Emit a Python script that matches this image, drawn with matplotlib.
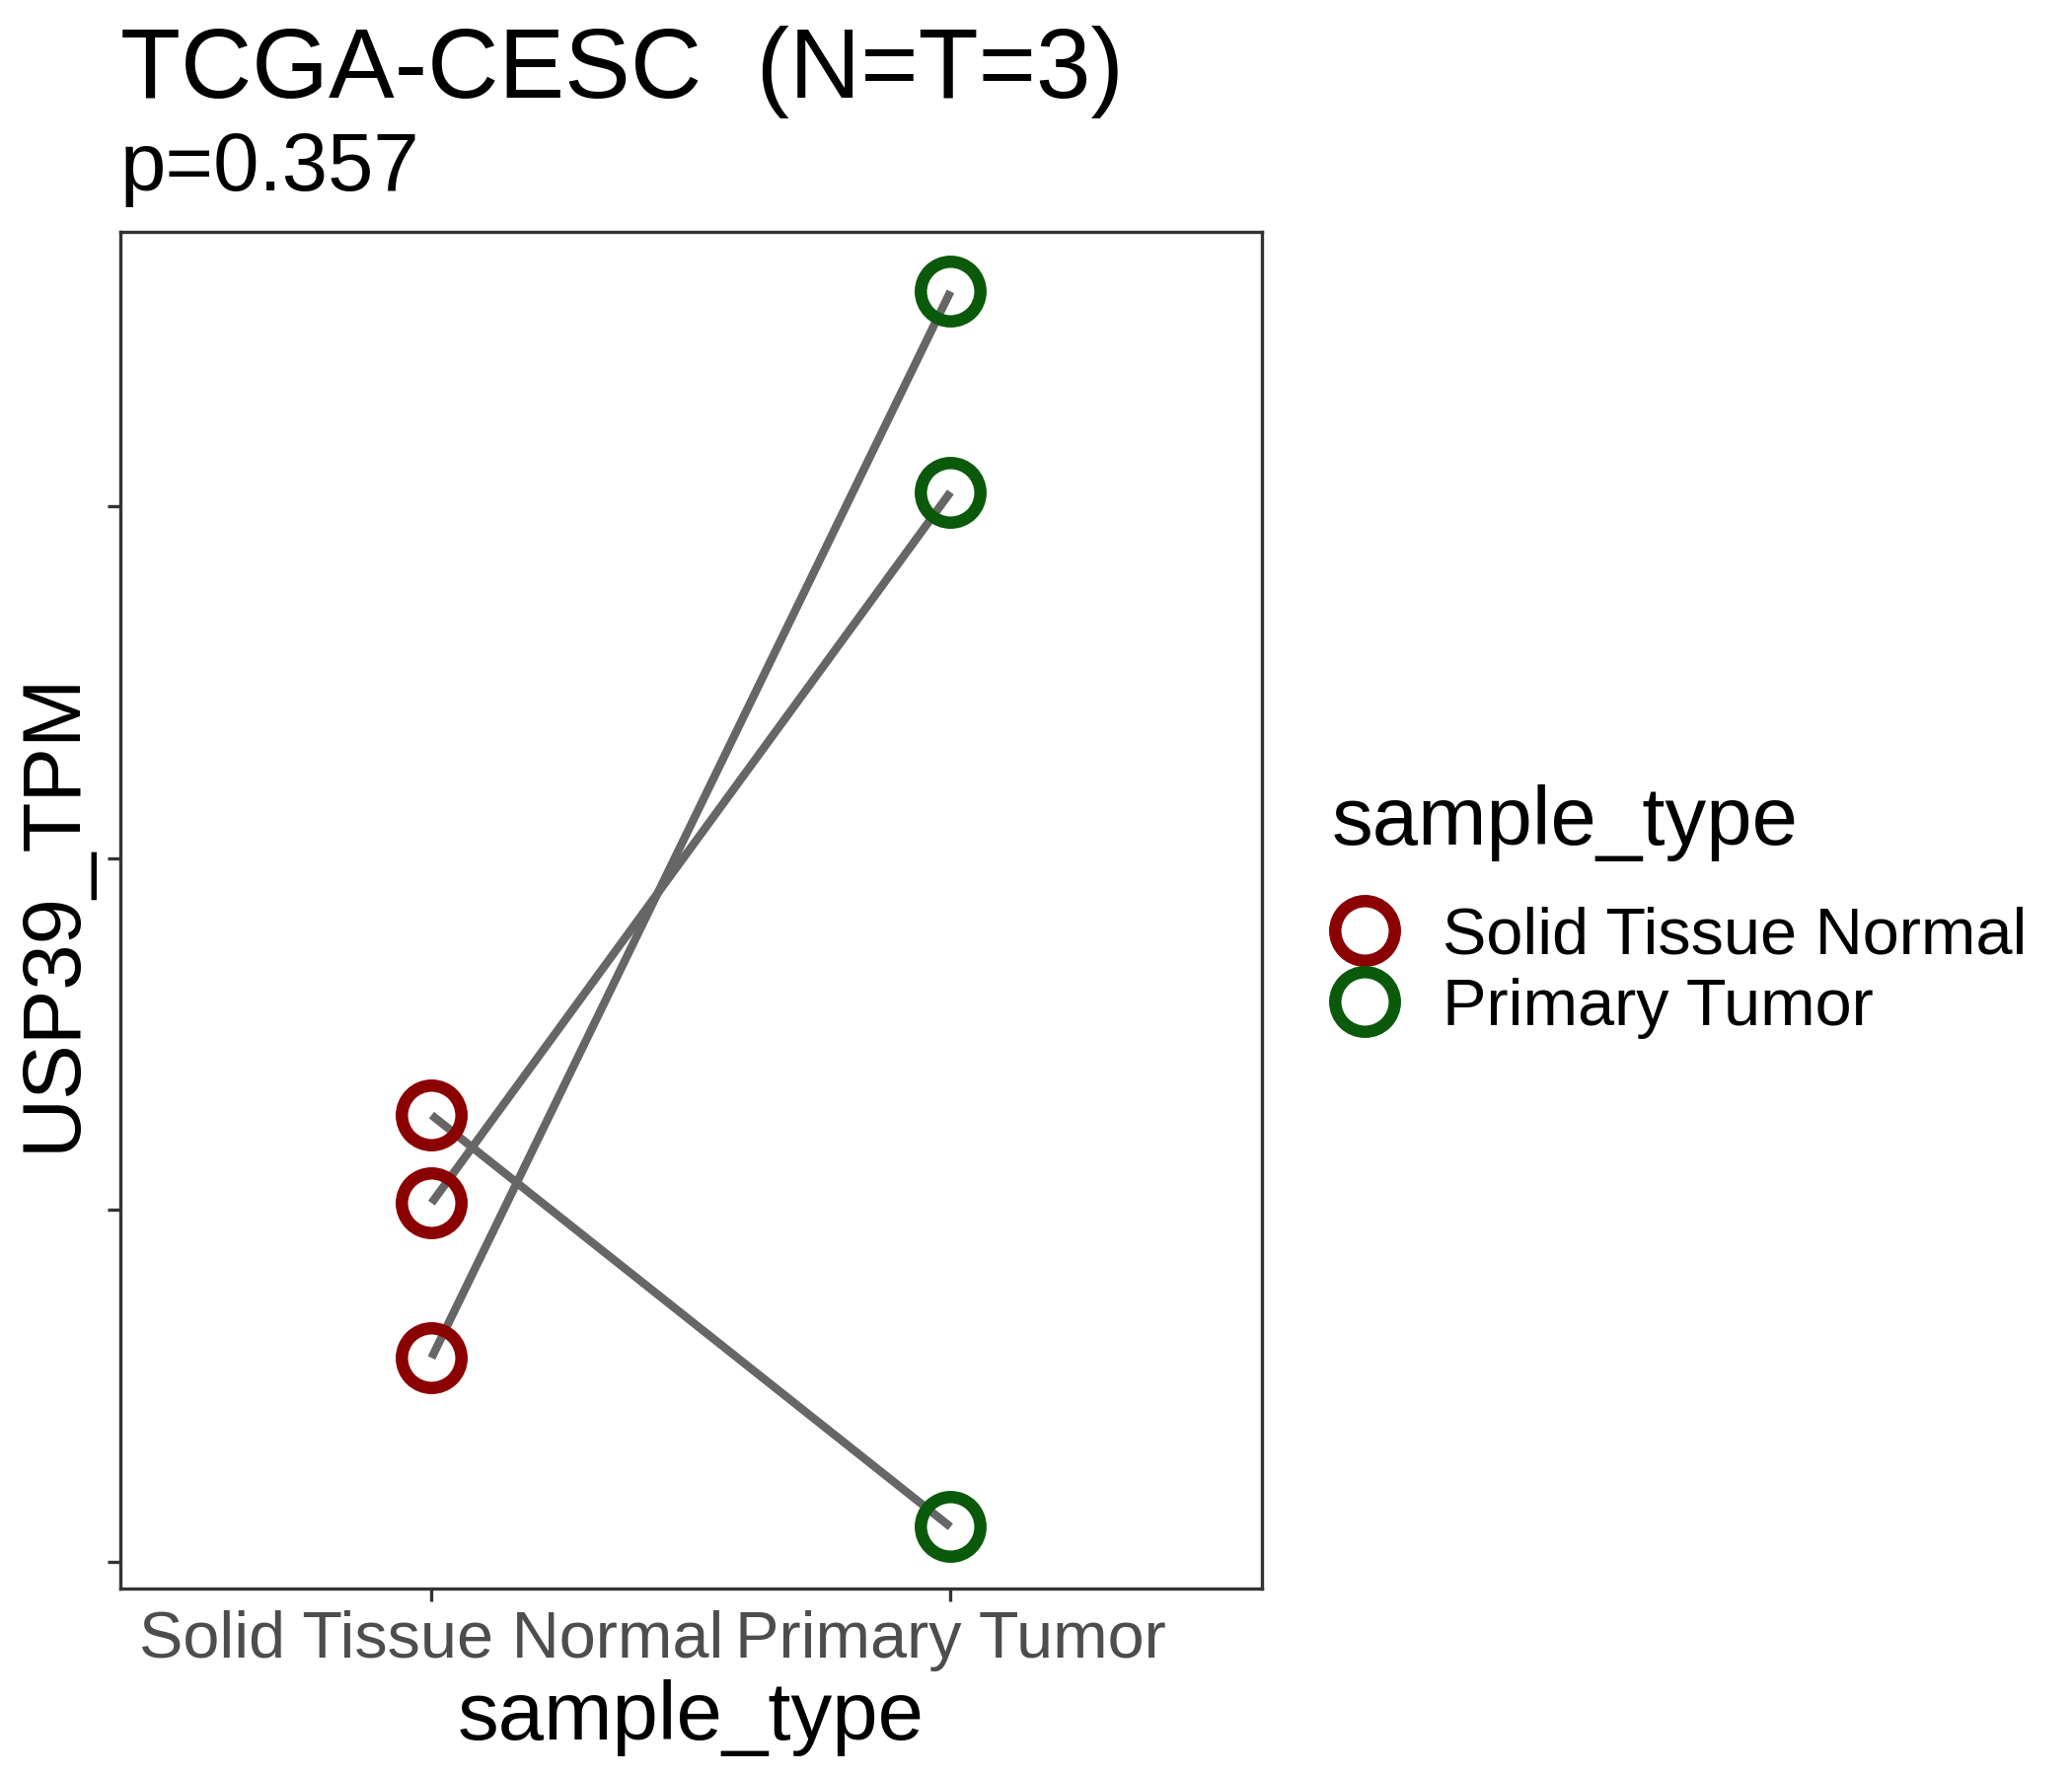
import matplotlib
matplotlib.use("Agg")
import matplotlib.pyplot as plt
from matplotlib.lines import Line2D

plt.rcParams['font.family'] = ['Liberation Sans', 'DejaVu Sans']

# datos (escala arbitraria: el eje y no tiene etiquetas)
categories = ["Solid Tissue Normal", "Primary Tumor"]
normal_tpm = [22.7, 20.2, 15.8]
tumor_tpm = [11.0, 40.4, 46.1]
y_ticks = [10, 20, 30, 40]
colors = ["#8B0000", "#0B5A0B"]

fig = plt.figure(figsize=(7, 6), dpi=300)
ax = fig.add_axes([0.058, 0.1056, 0.551, 0.764])

# líneas pareadas
for a, b in zip(normal_tpm, tumor_tpm):
    ax.plot([1, 2], [a, b], color="#666666", lw=2.0, zorder=2, solid_capstyle="butt")

# puntos
for i, vals in enumerate([normal_tpm, tumor_tpm]):
    ax.plot([i + 1] * len(vals), vals, linestyle="none", marker="o", ms=14.5,
            mfc="none", mec=colors[i], mew=3.0, zorder=3)

ax.set_xlim(0.4, 2.6)
ax.set_ylim(9.25, 47.8)
ax.set_xticks([1, 2])
ax.set_xticklabels(categories, fontsize=16, color="#4D4D4D")
ax.set_yticks(y_ticks)
ax.set_yticklabels([])
ax.tick_params(length=3.2, width=0.8, color="#333333", pad=2)
for s in ax.spines.values():
    s.set_color("#333333")
    s.set_linewidth(0.8)

ax.set_xlabel("sample_type", fontsize=20, labelpad=2)
fig.text(0.0255, 0.4867, "USP39_TPM", fontsize=20, rotation=90, ha="center", va="center")

fig.text(0.058, 0.945, "TCGA-CESC  (N=T=3)", fontsize=24, va="baseline")
fig.text(0.058, 0.893, "p=0.357", fontsize=20, va="baseline")

handles = [Line2D([], [], linestyle="none", marker="o", ms=14.5, mfc="none",
                  mec=c, mew=3.0) for c in colors]
leg = fig.legend(handles, categories, loc="upper left", bbox_to_anchor=(0.627, 0.577),
                 frameon=False, title="sample_type", fontsize=16, title_fontsize=20,
                 handletextpad=0.68, labelspacing=0.15, borderpad=0, handlelength=1.0)
leg._legend_box.align = "left"
leg._legend_box.sep = 11

fig.savefig("out.png", dpi=300)
